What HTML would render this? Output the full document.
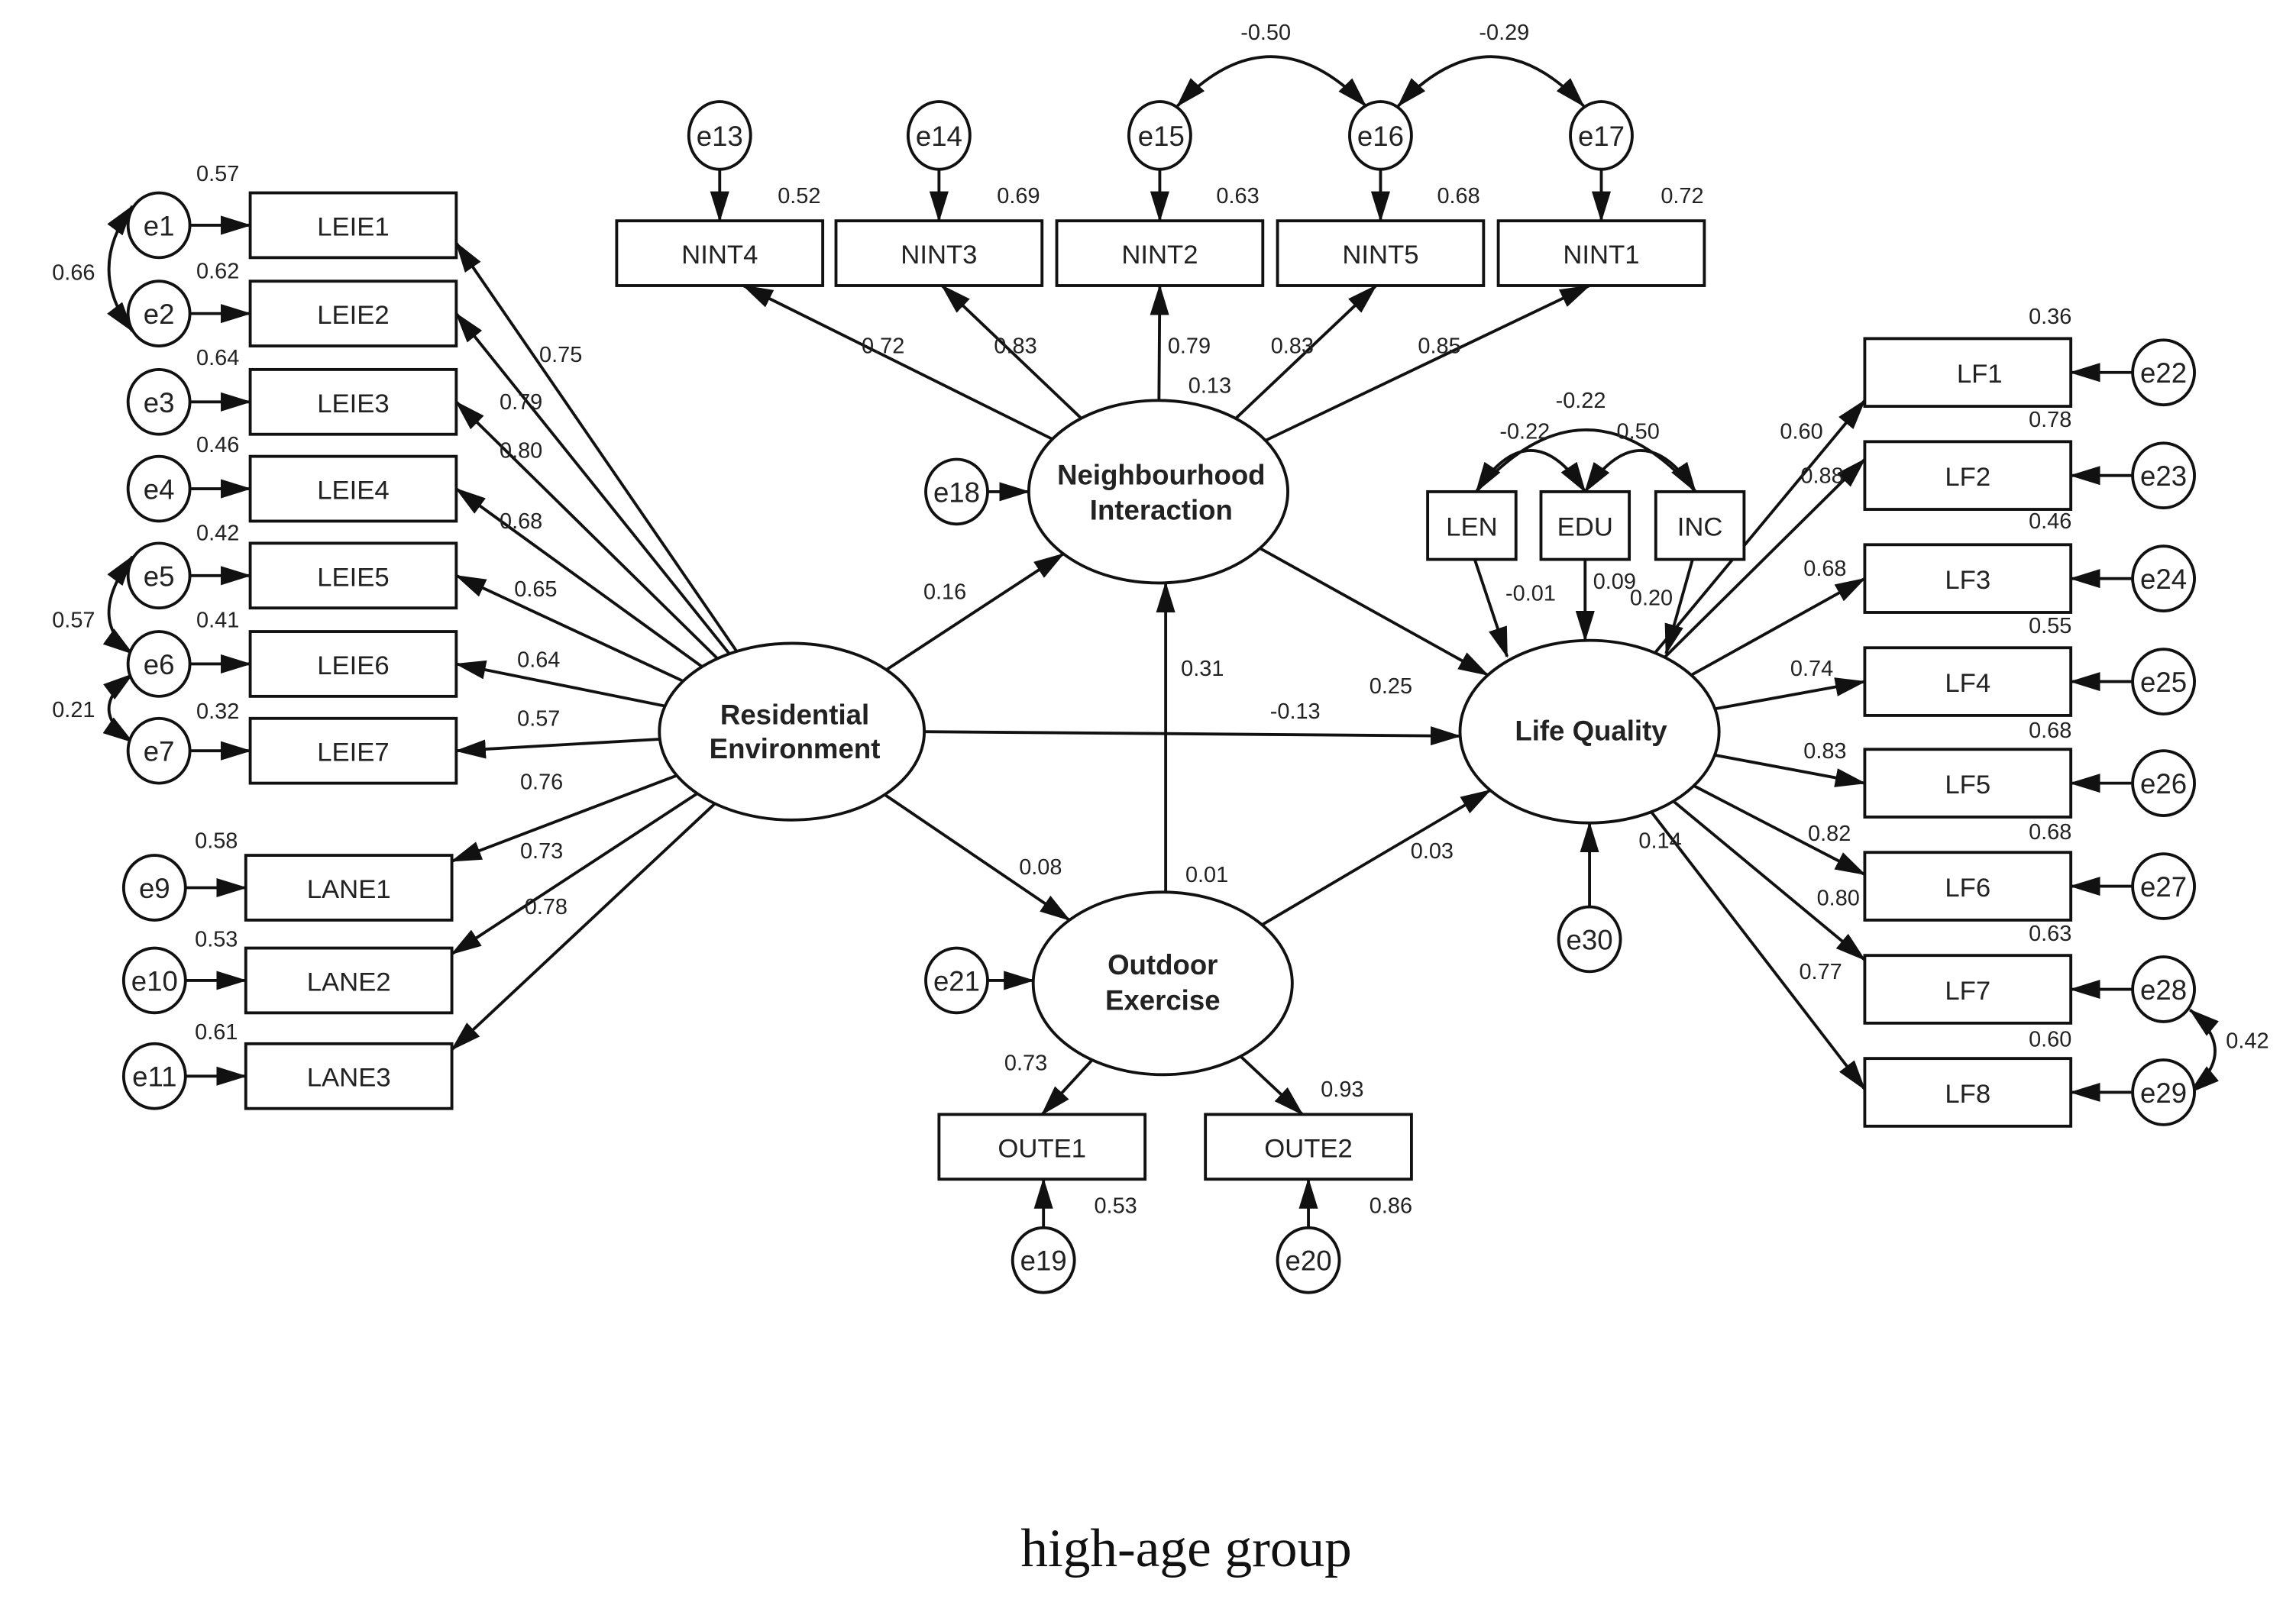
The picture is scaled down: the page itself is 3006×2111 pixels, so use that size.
<!DOCTYPE html>
<html><head><meta charset="utf-8">
<style>
html,body{margin:0;padding:0;background:#fff;}
svg{display:block;}
text{font-family:"Liberation Sans",sans-serif;fill:#222;}
.v{font-size:15px;text-anchor:middle;}
.b{font-size:18px;text-anchor:middle;}
.L{font-size:19px;font-weight:bold;text-anchor:middle;}
.e{font-size:19px;text-anchor:middle;}
</style></head><body>
<svg id="s" width="3006" height="2111" viewBox="0 0 1560 1095" preserveAspectRatio="none" xmlns="http://www.w3.org/2000/svg">
<defs>
<marker id="a" markerUnits="userSpaceOnUse" markerWidth="21" markerHeight="13" refX="20" refY="6.5" orient="auto-start-reverse">
<path d="M0,0 L21,6.5 L0,13 z" fill="#111"/></marker>
</defs>
<g id="lines" stroke="#111" stroke-width="2" fill="none"></g>
<g id="shapes" stroke="#111" stroke-width="2" fill="#fff"></g>
<g id="txt">
<text class="e" x="108" y="160">e1</text>
<text class="e" x="108" y="220">e2</text>
<text class="e" x="108" y="280">e3</text>
<text class="e" x="108" y="339">e4</text>
<text class="e" x="108" y="398">e5</text>
<text class="e" x="108" y="458">e6</text>
<text class="e" x="108" y="517">e7</text>
<text class="e" x="105" y="610">e9</text>
<text class="e" x="105" y="673">e10</text>
<text class="e" x="105" y="738">e11</text>
<text class="b" x="240" y="160">LEIE1</text>
<text class="b" x="240" y="220">LEIE2</text>
<text class="b" x="240" y="280">LEIE3</text>
<text class="b" x="240" y="339">LEIE4</text>
<text class="b" x="240" y="398">LEIE5</text>
<text class="b" x="240" y="458">LEIE6</text>
<text class="b" x="240" y="517">LEIE7</text>
<text class="b" x="237" y="610">LANE1</text>
<text class="b" x="237" y="673">LANE2</text>
<text class="b" x="237" y="738">LANE3</text>
<text class="v" x="148" y="123">0.57</text>
<text class="v" x="148" y="189">0.62</text>
<text class="v" x="148" y="248">0.64</text>
<text class="v" x="148" y="307">0.46</text>
<text class="v" x="148" y="367">0.42</text>
<text class="v" x="148" y="426">0.41</text>
<text class="v" x="148" y="488">0.32</text>
<text class="v" x="147" y="576">0.58</text>
<text class="v" x="147" y="643">0.53</text>
<text class="v" x="147" y="706">0.61</text>
<text class="v" x="50" y="190">0.66</text>
<text class="v" x="50" y="426">0.57</text>
<text class="v" x="50" y="487">0.21</text>
<text class="v" x="381" y="246">0.75</text>
<text class="v" x="354" y="278">0.79</text>
<text class="v" x="354" y="311">0.80</text>
<text class="v" x="354" y="359">0.68</text>
<text class="v" x="364" y="405">0.65</text>
<text class="v" x="366" y="453">0.64</text>
<text class="v" x="366" y="493">0.57</text>
<text class="v" x="368" y="536">0.76</text>
<text class="v" x="368" y="583">0.73</text>
<text class="v" x="371" y="621">0.78</text>
<text class="L" x="540" y="492">Residential</text>
<text class="L" x="540" y="515">Environment</text>
<text class="e" x="489" y="99">e13</text>
<text class="e" x="638" y="99">e14</text>
<text class="e" x="789" y="99">e15</text>
<text class="e" x="938" y="99">e16</text>
<text class="e" x="1088" y="99">e17</text>
<text class="b" x="489" y="179">NINT4</text>
<text class="b" x="638" y="179">NINT3</text>
<text class="b" x="788" y="179">NINT2</text>
<text class="b" x="938" y="179">NINT5</text>
<text class="b" x="1088" y="179">NINT1</text>
<text class="v" x="543" y="138">0.52</text>
<text class="v" x="692" y="138">0.69</text>
<text class="v" x="841" y="138">0.63</text>
<text class="v" x="991" y="138">0.68</text>
<text class="v" x="1143" y="138">0.72</text>
<text class="v" x="860" y="27">-0.50</text>
<text class="v" x="1022" y="27">-0.29</text>
<text class="v" x="600" y="240">0.72</text>
<text class="v" x="690" y="240">0.83</text>
<text class="v" x="808" y="240">0.79</text>
<text class="v" x="878" y="240">0.83</text>
<text class="v" x="978" y="240">0.85</text>
<text class="v" x="822" y="267">0.13</text>
<text class="L" x="789" y="329">Neighbourhood</text>
<text class="L" x="789" y="353">Interaction</text>
<text class="e" x="650" y="341">e18</text>
<text class="v" x="642" y="407">0.16</text>
<text class="v" x="817" y="459">0.31</text>
<text class="v" x="880" y="488">-0.13</text>
<text class="v" x="945" y="471">0.25</text>
<text class="v" x="707" y="594">0.08</text>
<text class="v" x="820" y="599">0.01</text>
<text class="v" x="973" y="583">0.03</text>
<text class="L" x="790" y="662">Outdoor</text>
<text class="L" x="790" y="686">Exercise</text>
<text class="e" x="650" y="673">e21</text>
<text class="b" x="708" y="786">OUTE1</text>
<text class="b" x="889" y="786">OUTE2</text>
<text class="e" x="709" y="863">e19</text>
<text class="e" x="889" y="863">e20</text>
<text class="v" x="697" y="727">0.73</text>
<text class="v" x="912" y="745">0.93</text>
<text class="v" x="758" y="824">0.53</text>
<text class="v" x="945" y="824">0.86</text>
<text class="b" x="1000" y="364">LEN</text>
<text class="b" x="1077" y="364">EDU</text>
<text class="b" x="1155" y="364">INC</text>
<text class="v" x="1074" y="277">-0.22</text>
<text class="v" x="1036" y="298">-0.22</text>
<text class="v" x="1113" y="298">0.50</text>
<text class="v" x="1040" y="408">-0.01</text>
<text class="v" x="1097" y="400">0.09</text>
<text class="v" x="1122" y="411">0.20</text>
<text class="L" x="1081" y="503">Life Quality</text>
<text class="e" x="1080" y="645">e30</text>
<text class="v" x="1128" y="576">0.14</text>
<text class="b" x="1345" y="260">LF1</text>
<text class="b" x="1337" y="330">LF2</text>
<text class="b" x="1337" y="400">LF3</text>
<text class="b" x="1337" y="470">LF4</text>
<text class="b" x="1337" y="539">LF5</text>
<text class="b" x="1337" y="609">LF6</text>
<text class="b" x="1337" y="679">LF7</text>
<text class="b" x="1337" y="749">LF8</text>
<text class="e" x="1470" y="260">e22</text>
<text class="e" x="1470" y="330">e23</text>
<text class="e" x="1470" y="400">e24</text>
<text class="e" x="1470" y="470">e25</text>
<text class="e" x="1470" y="539">e26</text>
<text class="e" x="1470" y="609">e27</text>
<text class="e" x="1470" y="679">e28</text>
<text class="e" x="1470" y="749">e29</text>
<text class="v" x="1393" y="220">0.36</text>
<text class="v" x="1393" y="290">0.78</text>
<text class="v" x="1393" y="359">0.46</text>
<text class="v" x="1393" y="430">0.55</text>
<text class="v" x="1393" y="501">0.68</text>
<text class="v" x="1393" y="570">0.68</text>
<text class="v" x="1393" y="639">0.63</text>
<text class="v" x="1393" y="711">0.60</text>
<text class="v" x="1224" y="298">0.60</text>
<text class="v" x="1238" y="328">0.88</text>
<text class="v" x="1240" y="391">0.68</text>
<text class="v" x="1231" y="459">0.74</text>
<text class="v" x="1240" y="515">0.83</text>
<text class="v" x="1243" y="571">0.82</text>
<text class="v" x="1249" y="615">0.80</text>
<text class="v" x="1237" y="665">0.77</text>
<text class="v" x="1527" y="712">0.42</text>
<text x="806" y="1064" style="font-family:'Liberation Serif',serif;font-size:37px;text-anchor:middle;fill:#111">high-age group</text>
</g>
</svg>
<script>
var NS="http://www.w3.org/2000/svg";
var L=document.getElementById('lines'),S=document.getElementById('shapes');
function el(p,t,a){var e=document.createElementNS(NS,t);for(var k in a)e.setAttribute(k,a[k]);p.appendChild(e);return e;}
function ar(x1,y1,x2,y2){el(L,'line',{x1:x1,y1:y1,x2:x2,y2:y2,'marker-end':'url(#a)'});}
function cv(d){el(L,'path',{d:d,'marker-start':'url(#a)','marker-end':'url(#a)'});}
function ep(E,tx,ty){var dx=tx-E[0],dy=ty-E[1];var t=1/Math.sqrt(dx*dx/(E[2]*E[2])+dy*dy/(E[3]*E[3]));return [E[0]+dx*t,E[1]+dy*t];}
function ee(A,B){var p=ep(A,B[0],B[1]),q=ep(B,A[0],A[1]);ar(p[0],p[1],q[0],q[1]);}
function fromE(E,x,y){var p=ep(E,x,y);ar(p[0],p[1],x,y);}
var RE=[538,497,90,60],NI=[787,334,88,62],OE=[790,668,88,62],LQ=[1080,497,88,62];
var ly=[153,213,273,332,391,451,510];
ly.forEach(function(y,i){el(S,'rect',{x:170,y:y-22,width:140,height:44});el(S,'ellipse',{cx:108,cy:y,rx:21,ry:22});ar(129,y,170,y);fromE(RE,310,i==0?y+12:y);});
[603,666,731].forEach(function(y){el(S,'rect',{x:167,y:y-22,width:140,height:44});el(S,'ellipse',{cx:105,cy:y,rx:21,ry:22});ar(126,y,167,y);fromE(RE,307,y-18);});
cv('M90,140 Q58,183 90,225');cv('M90,378 Q58,421 90,444');cv('M90,458 Q58,482 90,504');
var nx=[489,638,788,938,1088],ntx=[505,640,788,935,1080];
nx.forEach(function(x,i){el(S,'rect',{x:x-70,y:150,width:140,height:44});el(S,'ellipse',{cx:x,cy:92,rx:21,ry:23});ar(x,115,x,150);fromE(NI,ntx[i],194);});
cv('M800,72 Q863,5 928,72');cv('M950,72 Q1013,5 1076,72');
el(S,'ellipse',{cx:650,cy:334,rx:21,ry:22});ar(671,334,699,334);
el(S,'ellipse',{cx:650,cy:666,rx:21,ry:22});ar(671,666,702,666);
ee(RE,NI);ar(628,497,992,500);ee(RE,OE);ee(NI,LQ);ar(792,606,792,396);ee(OE,LQ);
el(S,'rect',{x:638,y:757,width:140,height:44});el(S,'rect',{x:819,y:757,width:140,height:44});
fromE(OE,708,757);fromE(OE,885,757);
el(S,'ellipse',{cx:709,cy:856,rx:21,ry:22});el(S,'ellipse',{cx:889,cy:856,rx:21,ry:22});
ar(709,834,709,801);ar(889,834,889,801);
el(S,'rect',{x:970,y:334,width:60,height:46});el(S,'rect',{x:1047,y:334,width:60,height:46});el(S,'rect',{x:1125,y:334,width:60,height:46});
ar(1002,380,1024,446);ar(1077,380,1077,435);ar(1150,380,1132,444);
cv('M1003,334 Q1040,278 1077,334');
cv('M1077,334 Q1115,278 1152,334');
el(L,'path',{d:'M1003,334 Q1078,250 1152,334'});
el(S,'ellipse',{cx:1080,cy:638,rx:21,ry:22});ar(1080,616,1080,559);
var fy=[253,323,393,463,532,602,672,742],fty=[272,312,393,463,532,594,652,740];
fy.forEach(function(y,i){el(S,'rect',{x:1267,y:y-23,width:140,height:46});el(S,'ellipse',{cx:1470,cy:y,rx:21,ry:22});ar(1449,y,1407,y);fromE(LQ,1267,fty[i]);});
cv('M1488,686 Q1522,714 1488,742');
[RE,NI,OE,LQ].forEach(function(E){el(S,'ellipse',{cx:E[0],cy:E[1],rx:E[2],ry:E[3]});});
</script>
</body></html>
